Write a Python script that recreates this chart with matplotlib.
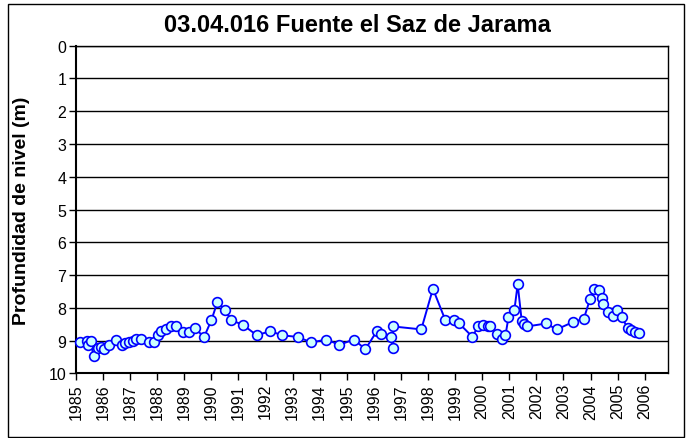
import matplotlib
matplotlib.use("Agg")
import matplotlib.pyplot as plt
from matplotlib.patches import Rectangle

plt.rcParams['font.family'] = ['Liberation Sans', 'DejaVu Sans']

title = "03.04.016 Fuente el Saz de Jarama"
ylabel = "Profundidad de nivel (m)"

years = [1985.14, 1985.39, 1985.45, 1985.54, 1985.65, 1985.81, 1985.94, 1986.04,
         1986.22, 1986.46, 1986.70, 1986.80, 1986.95, 1987.11, 1987.23, 1987.39,
         1987.70, 1987.88, 1988.03, 1988.15, 1988.34, 1988.50, 1988.71, 1988.95,
         1989.17, 1989.38, 1989.73, 1990.00, 1990.22, 1990.49, 1990.74, 1991.16,
         1991.68, 1992.18, 1992.60, 1993.19, 1993.69, 1994.24, 1994.73, 1995.25,
         1995.69, 1996.12, 1996.25, 1996.64, 1996.70, 1996.71, 1997.75, 1998.18,
         1998.64, 1998.95, 1999.14, 1999.63, 1999.86, 2000.02, 2000.21, 2000.30,
         2000.54, 2000.74, 2000.86, 2000.97, 2001.19, 2001.31, 2001.46, 2001.56,
         2001.66, 2002.36, 2002.75, 2003.37, 2003.75, 2003.98, 2004.14, 2004.33,
         2004.42, 2004.47, 2004.63, 2004.82, 2004.98, 2005.15, 2005.37, 2005.50,
         2005.65, 2005.80]
depth = [9.06, 9.01, 9.13, 9.02, 9.48, 9.22, 9.21, 9.27,
         9.13, 8.98, 9.13, 9.09, 9.06, 9.01, 8.94, 8.94,
         9.06, 9.06, 8.84, 8.71, 8.64, 8.57, 8.57, 8.74,
         8.74, 8.62, 8.89, 8.38, 7.83, 8.06, 8.38, 8.52,
         8.84, 8.71, 8.84, 8.89, 9.06, 8.97, 9.13, 8.97,
         9.26, 8.70, 8.79, 8.89, 9.22, 8.57, 8.66, 7.42,
         8.38, 8.38, 8.47, 8.88, 8.57, 8.52, 8.57, 8.57,
         8.79, 8.94, 8.84, 8.29, 8.06, 7.28, 8.41, 8.49,
         8.57, 8.48, 8.66, 8.43, 8.34, 7.74, 7.42, 7.46,
         7.69, 7.88, 8.14, 8.25, 8.06, 8.29, 8.61, 8.67,
         8.74, 8.78]

xticks = list(range(1985, 2007))
yticks = list(range(0, 11))

fig = plt.figure(figsize=(6.92, 4.39), dpi=100)
ax = fig.add_axes([0.1098, 0.1474, 0.9649 - 0.1098, 0.8936 - 0.1474])

for y in yticks:
    ax.axhline(y, color='black', linewidth=1.0, zorder=1)

ax.plot(years, depth, color='#0000FF', linewidth=1.4, marker='o', markersize=7,
        markerfacecolor='#CCFFFF', markeredgecolor='#0000FF', markeredgewidth=1.2, zorder=3,
        clip_on=False)

ax.set_xlim(1985, 2006.85)
ax.set_ylim(10, 0)
ax.set_xticks(xticks)
ax.set_xticklabels([str(t) for t in xticks], rotation=90, fontsize=11.5)
ax.set_yticks(yticks)
ax.set_yticklabels([str(t) for t in yticks], fontsize=11.5)
ax.tick_params(axis='both', direction='out', length=5, width=1, color='black', pad=2)
for s in ax.spines.values():
    s.set_color('black')
    s.set_linewidth(1.0)
ax.spines['left'].set_linewidth(1.5)
ax.spines['bottom'].set_linewidth(1.5)

ax.set_ylabel(ylabel, fontsize=14, fontweight='bold')
ax.yaxis.set_label_coords(-0.078, 0.5)
fig.text(0.517, 0.943, title, ha='center', va='center', fontsize=17, fontweight='bold')

fig.patches.append(Rectangle((8 / 692, 1 - 438 / 439), (684 - 8) / 692, (438 - 5) / 439,
                             transform=fig.transFigure, fill=False, edgecolor='black',
                             linewidth=1.0))

fig.savefig("out.png", dpi=100)
